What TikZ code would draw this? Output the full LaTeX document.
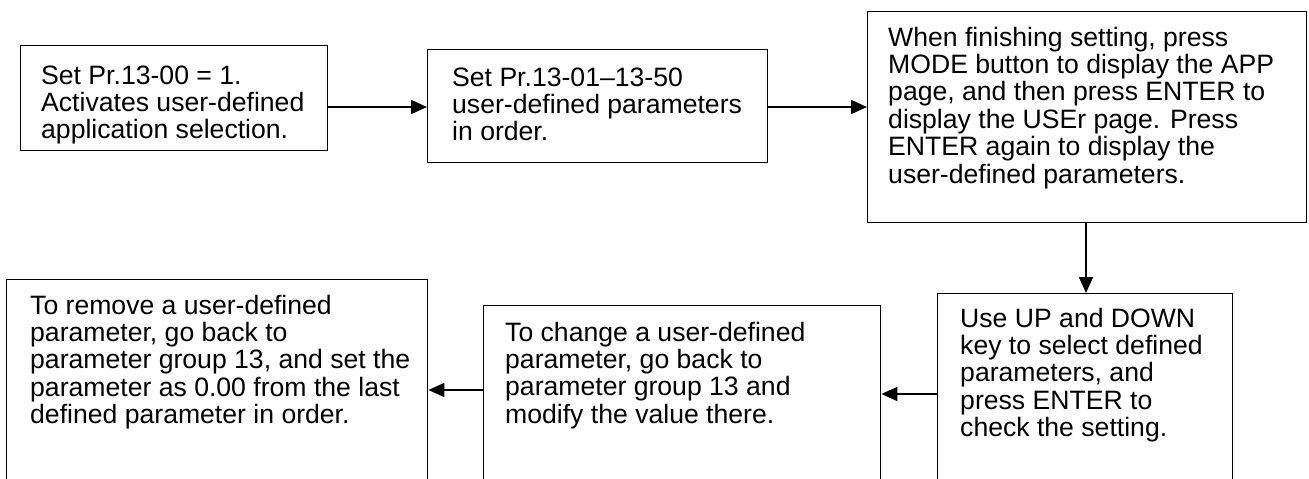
\documentclass[tikz,border=0pt]{standalone}
\usepackage{fontspec}
\setmainfont{Liberation Sans}
\usetikzlibrary{arrows.meta}
\tikzset{
  box/.style={draw=black, line width=1.4pt, rectangle, inner sep=0pt, anchor=north west},
  txt/.style={inner sep=0pt, anchor=base west, font=\fontsize{26.6}{27.4}\selectfont},
  arr/.style={line width=1.7pt, -{Triangle[length=16pt,width=14pt]}}
}
\newcommand{\boxtext}[1]{\parbox[t]{460pt}{\raggedright #1}}
\begin{document}
\begin{tikzpicture}[x=1pt,y=-1pt]
\useasboundingbox (0,0) rectangle (1309,479);
\clip (0,0) rectangle (1309,479);
% boxes
\node[box, minimum width=307pt, minimum height=105pt] (b1) at (20,45) {};
\node[box, minimum width=340pt, minimum height=113pt] (b2) at (427,49) {};
\node[box, minimum width=439pt, minimum height=211pt] (b3) at (867,11) {};
\node[box, minimum width=295pt, minimum height=220pt] (b6) at (937,293) {};
\node[box, minimum width=397pt, minimum height=220pt] (b5) at (483,305) {};
\node[box, minimum width=421pt, minimum height=220pt] (b4) at (6,279) {};
% texts
\node[txt] (t1) at (41,84) {\boxtext{Set Pr.13-00 = 1.\\Activates user-defined\\application selection.}};
\node[txt] (t2) at (452,86) {\boxtext{Set Pr.13-01–13-50\\user-defined parameters\\in order.}};
\node[txt] (t3) at (888,46) {\boxtext{When finishing setting, press\\MODE button to display the APP\\page, and then press ENTER to\\display the USEr page. Press\\ENTER again to display the\\user-defined parameters.}};
\node[txt] (t6) at (960,327) {\boxtext{Use UP and DOWN\\key to select defined\\parameters, and\\press ENTER to\\check the setting.}};
\node[txt] (t5) at (505,341) {\boxtext{To change a user-defined\\parameter, go back to\\parameter group 13 and\\modify the value there.}};
\node[txt] (t4) at (30,314) {\boxtext{To remove a user-defined\\parameter, go back to\\parameter group 13, and set the\\parameter as 0.00 from the last\\defined parameter in order.}};
% connectors
\draw[arr] (b1.east |- 0,107) -- (b2.west |- 0,107);
\draw[arr] (b2.east |- 0,107) -- (b3.west |- 0,107);
\draw[arr] (b3.south -| 1086,0) -- (b6.north -| 1086,0);
\draw[arr] (b6.west |- 0,394) -- (b5.east |- 0,394);
\draw[arr] (b5.west |- 0,390) -- (b4.east |- 0,390);
\end{tikzpicture}
\end{document}
